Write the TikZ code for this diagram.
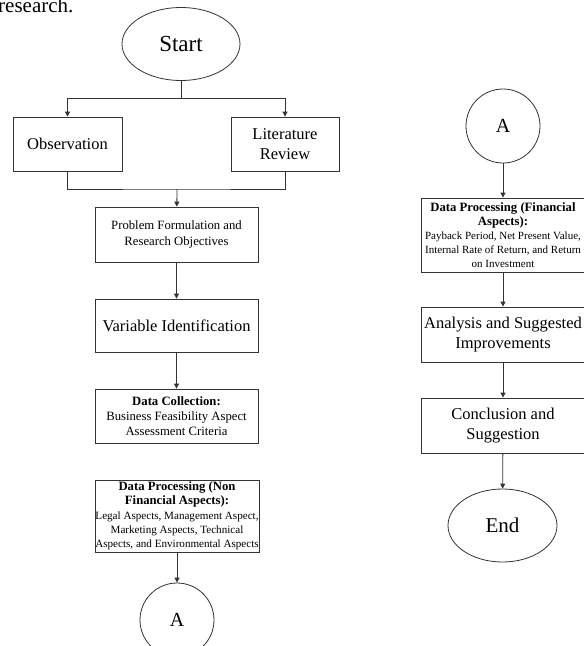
\documentclass[tikz,border=0pt]{standalone}
\usepackage{fontspec}
\setmainfont{Liberation Serif}
\usetikzlibrary{arrows.meta,shapes.geometric}

\begin{document}
\begin{tikzpicture}[x=1pt,y=-1pt,
  box/.style={draw=black!80,line width=0.8pt,inner sep=0pt,align=center,minimum width=163pt},
  big/.style={font=\fontsize{16.5}{19.5}\selectfont},
  small/.style={font=\fontsize{12.7}{15}\selectfont},
  term/.style={draw=black!80,line width=0.8pt,ellipse,inner sep=0pt,minimum height=73pt,font=\fontsize{21}{24}\selectfont},
  conn/.style={draw=black!80,line width=0.8pt,circle,inner sep=0pt,minimum size=74pt,font=\fontsize{20}{24}\selectfont},
  line/.style={draw=black!80,line width=0.8pt},
  flow/.style={line,-{Triangle[width=5pt,length=5pt]}}]
\useasboundingbox (0,0) rectangle (584,646);
\clip (0,0) rectangle (584,646);
%Text
\node[anchor=base west,inner sep=0pt,font=\fontsize{21}{24}\selectfont] (capt) at (-2,12) {research.};
% left column
\node[term,minimum width=118pt,font=\fontsize{23}{26}\selectfont] (start) at (181,44) {Start};
\node[box,big,minimum width=109pt,minimum height=54pt] (obs) at (67.5,144) {Observation};
\node[box,big,minimum width=108pt,minimum height=54pt] (lit) at (285,144) {Literature\\Review};
\node[box,font=\fontsize{12.7}{16}\selectfont,minimum height=55pt] (pf) at (176.5,234.5) {Problem Formulation and\\Research Objectives};
\node[box,big,minimum height=53pt] (var) at (176.5,325.5) {Variable Identification};
\node[box,small,minimum height=54pt] (dc) at (176.5,416) {\textbf{Data Collection:}\\Business Feasibility Aspect\\Assessment Criteria};
\node[box,minimum width=164pt,minimum height=72pt,font=\fontsize{11.1}{14.3}\selectfont] (dp) at (177,516)
  {{\fontsize{12.7}{14.3}\selectfont\bfseries Data Processing (Non}\\{\fontsize{12.7}{14.3}\selectfont\bfseries Financial Aspects):}\\Legal Aspects, Management Aspect,\\Marketing Aspects, Technical\\Aspects, and Environmental Aspects};
\node[conn] (a1) at (177,620) {A};
% right column
\node[conn] (a2) at (503,126) {A};
\node[box,minimum width=164pt,minimum height=74pt,font=\fontsize{11}{14}\selectfont] (dpf) at (503,235)
  {{\fontsize{12.7}{14}\selectfont\bfseries Data Processing (Financial}\\{\fontsize{12.7}{14}\selectfont\bfseries Aspects):}\\Payback Period, Net Present Value,\\Internal Rate of Return, and Return\\on Investment};
\node[box,big,minimum width=164pt,minimum height=55pt] (ana) at (503,334.5) {Analysis and Suggested\\Improvements};
\node[box,big,minimum width=164pt,minimum height=55pt] (con) at (503,425.5) {Conclusion and\\Suggestion};
\node[term,minimum width=109pt] (stop) at (502.5,525.5) {End};
% connectors
\coordinate (split) at (181,98);
\coordinate (merge) at (177,189);
\draw[line] (start) -- (split);
\draw[flow] (split) -| (obs);
\draw[flow] (split) -| (lit);
\draw[line] (obs.south) |- (merge) -| (lit.south);
\draw[flow] (merge) -- (pf);
\draw[flow] (pf) -- (var);
\draw[flow] (var) -- (dc);
\draw[flow] (dp) -- (a1);
\draw[flow] (a2) -- (dpf);
\draw[flow] (dpf) -- (ana);
\draw[flow] (ana) -- (con);
\draw[flow] (con) -- (stop);
\end{tikzpicture}
\end{document}
